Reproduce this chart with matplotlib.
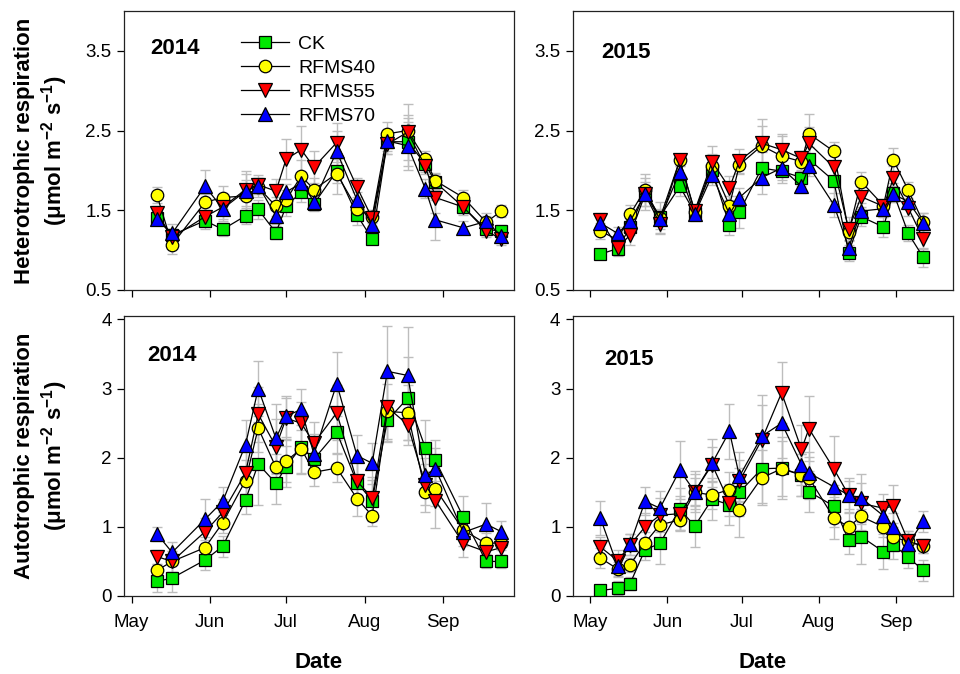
import numpy as np
import matplotlib
matplotlib.use("Agg")
import matplotlib.pyplot as plt
import matplotlib.dates as mdates

plt.rcParams['font.family'] = ['Liberation Sans', 'DejaVu Sans']
plt.rcParams['mathtext.default'] = 'regular'

# ---------------------------------------------------------------- data
treatments = ["CK", "RFMS40", "RFMS55", "RFMS70"]

dates_2014 = ["2014-05-11", "2014-05-17", "2014-05-30", "2014-06-06", "2014-06-15",
              "2014-06-20", "2014-06-27", "2014-07-01", "2014-07-07", "2014-07-12",
              "2014-07-21", "2014-07-29", "2014-08-04", "2014-08-10", "2014-08-18",
              "2014-08-25", "2014-08-29", "2014-09-09", "2014-09-18", "2014-09-24"]

dates_2015 = ["2015-05-05", "2015-05-12", "2015-05-17", "2015-05-23", "2015-05-29",
              "2015-06-06", "2015-06-12", "2015-06-19", "2015-06-26", "2015-06-30",
              "2015-07-09", "2015-07-17", "2015-07-25", "2015-07-28", "2015-08-07",
              "2015-08-13", "2015-08-18", "2015-08-27", "2015-08-31", "2015-09-06",
              "2015-09-12"]

# Heterotrophic respiration, 2014 (means and SE)
rh14_ck   = [1.40, 1.19, 1.37, 1.26, 1.43, 1.51, 1.22, 1.55, 1.73, 1.58, 1.99, 1.44, 1.14, 2.36, 2.36, 2.08, 1.85, 1.54, 1.26, 1.24]
rh14_r40  = [1.69, 1.07, 1.60, 1.66, 1.68, 1.79, 1.55, 1.63, 1.93, 1.76, 1.96, 1.52, 1.42, 2.46, 2.50, 2.14, 1.87, 1.66, 1.35, 1.49]
rh14_r55  = [1.47, 1.16, 1.42, 1.54, 1.76, 1.82, 1.74, 2.14, 2.26, 2.04, 2.35, 1.79, 1.40, 2.33, 2.48, 2.05, 1.66, 1.54, 1.24, 1.14]
rh14_r70  = [1.39, 1.21, 1.80, 1.52, 1.74, 1.81, 1.43, 1.73, 1.84, 1.61, 2.24, 1.63, 1.31, 2.37, 2.31, 1.77, 1.38, 1.28, 1.36, 1.18]
rh14_ck_se  = [0.08, 0.08, 0.10, 0.08, 0.10, 0.12, 0.08, 0.12, 0.12, 0.08, 0.15, 0.12, 0.06, 0.15, 0.30, 0.10, 0.10, 0.08, 0.06, 0.08]
rh14_r40_se = [0.10, 0.12, 0.10, 0.15, 0.20, 0.12, 0.12, 0.12, 0.20, 0.15, 0.25, 0.12, 0.08, 0.15, 0.20, 0.10, 0.10, 0.10, 0.08, 0.08]
rh14_r55_se = [0.08, 0.10, 0.12, 0.15, 0.20, 0.12, 0.15, 0.25, 0.30, 0.20, 0.25, 0.12, 0.10, 0.12, 0.35, 0.10, 0.20, 0.10, 0.08, 0.08]
rh14_r70_se = [0.08, 0.12, 0.20, 0.15, 0.25, 0.10, 0.10, 0.10, 0.12, 0.12, 0.25, 0.10, 0.10, 0.12, 0.30, 0.12, 0.25, 0.08, 0.10, 0.08]

# Heterotrophic respiration, 2015
rh15_ck   = [0.95, 1.02, 1.29, 1.72, 1.42, 1.80, 1.47, 2.01, 1.31, 1.48, 2.03, 1.99, 1.91, 2.14, 1.87, 0.97, 1.42, 1.29, 1.72, 1.21, 0.91]
rh15_r40  = [1.24, 1.13, 1.45, 1.76, 1.40, 2.13, 1.48, 2.05, 1.56, 2.07, 2.31, 2.18, 2.11, 2.46, 2.24, 1.23, 1.86, 1.56, 2.13, 1.75, 1.35]
rh15_r55  = [1.38, 1.03, 1.19, 1.70, 1.33, 2.13, 1.49, 2.11, 1.78, 2.12, 2.34, 2.26, 2.15, 2.34, 2.04, 1.26, 1.67, 1.55, 1.90, 1.53, 1.14]
rh15_r70  = [1.34, 1.21, 1.36, 1.71, 1.39, 1.98, 1.45, 1.94, 1.45, 1.66, 1.91, 2.03, 1.80, 2.05, 1.57, 1.03, 1.49, 1.52, 1.70, 1.61, 1.34]
rh15_ck_se  = [0.05, 0.08, 0.10, 0.10, 0.08, 0.12, 0.08, 0.15, 0.12, 0.20, 0.20, 0.15, 0.10, 0.15, 0.25, 0.10, 0.12, 0.12, 0.12, 0.10, 0.12]
rh15_r40_se = [0.10, 0.10, 0.12, 0.20, 0.20, 0.08, 0.08, 0.15, 0.12, 0.12, 0.25, 0.25, 0.12, 0.25, 0.12, 0.10, 0.12, 0.08, 0.15, 0.10, 0.12]
rh15_r55_se = [0.08, 0.10, 0.12, 0.20, 0.12, 0.08, 0.08, 0.20, 0.15, 0.15, 0.30, 0.20, 0.10, 0.20, 0.15, 0.15, 0.15, 0.08, 0.15, 0.10, 0.12]
rh15_r70_se = [0.08, 0.08, 0.12, 0.15, 0.12, 0.12, 0.08, 0.12, 0.10, 0.12, 0.20, 0.15, 0.08, 0.12, 0.15, 0.10, 0.10, 0.10, 0.10, 0.10, 0.12]

# Autotrophic respiration, 2014
ra14_ck   = [0.21, 0.26, 0.52, 0.72, 1.39, 1.91, 1.63, 1.87, 2.16, 1.98, 2.37, 1.64, 1.38, 2.54, 2.86, 2.14, 1.96, 1.14, 0.50, 0.50]
ra14_r40  = [0.37, 0.50, 0.70, 1.06, 1.67, 2.43, 1.86, 1.95, 2.13, 1.79, 1.85, 1.41, 1.16, 2.67, 2.65, 1.51, 1.55, 0.95, 0.76, 0.77]
ra14_r55  = [0.57, 0.50, 0.93, 1.21, 1.78, 2.63, 2.16, 2.57, 2.50, 2.21, 2.65, 1.66, 1.42, 2.73, 2.48, 1.61, 1.38, 0.76, 0.64, 0.70]
ra14_r70  = [0.90, 0.63, 1.11, 1.37, 2.19, 3.00, 2.28, 2.60, 2.70, 2.05, 3.07, 2.03, 1.92, 3.25, 3.19, 1.75, 1.84, 0.92, 1.04, 0.93]
ra14_ck_se  = [0.15, 0.20, 0.15, 0.15, 0.20, 0.60, 0.30, 0.30, 0.40, 0.25, 0.30, 0.30, 0.30, 0.30, 0.60, 0.40, 0.30, 0.30, 0.10, 0.10]
ra14_r40_se = [0.10, 0.15, 0.15, 0.15, 0.30, 0.35, 0.20, 0.30, 0.35, 0.20, 0.20, 0.25, 0.15, 0.40, 0.40, 0.30, 0.25, 0.15, 0.15, 0.10]
ra14_r55_se = [0.10, 0.15, 0.20, 0.20, 0.30, 0.40, 0.40, 0.30, 0.30, 0.30, 0.40, 0.30, 0.30, 0.50, 0.30, 0.30, 0.40, 0.20, 0.15, 0.10]
ra14_r70_se = [0.10, 0.15, 0.30, 0.20, 0.35, 0.40, 0.50, 0.30, 0.30, 0.30, 0.46, 0.30, 0.30, 0.65, 0.70, 0.25, 0.30, 0.20, 0.30, 0.15]

# Autotrophic respiration, 2015
ra15_ck   = [0.08, 0.11, 0.18, 0.67, 0.76, 1.26, 1.01, 1.40, 1.32, 1.50, 1.84, 1.85, 1.75, 1.51, 1.30, 0.81, 0.86, 0.64, 0.74, 0.56, 0.37]
ra15_r40  = [0.55, 0.39, 0.45, 0.77, 1.03, 1.10, 1.50, 1.46, 1.54, 1.25, 1.71, 1.84, 1.75, 1.71, 1.13, 1.00, 1.15, 1.00, 0.85, 0.79, 0.72]
ra15_r55  = [0.71, 0.51, 0.74, 1.00, 1.17, 1.19, 1.51, 1.90, 1.35, 1.66, 2.26, 2.94, 2.12, 2.42, 1.84, 1.46, 1.34, 1.27, 1.30, 0.79, 0.72]
ra15_r70  = [1.13, 0.43, 0.75, 1.37, 1.27, 1.82, 1.51, 1.92, 2.38, 1.73, 2.31, 2.50, 1.90, 1.78, 1.58, 1.46, 1.42, 1.16, 1.00, 0.75, 1.08]
ra15_ck_se  = [0.05, 0.10, 0.10, 0.15, 0.30, 0.30, 0.30, 0.30, 0.30, 0.35, 0.50, 0.45, 0.30, 0.30, 0.30, 0.20, 0.40, 0.25, 0.20, 0.15, 0.15]
ra15_r40_se = [0.15, 0.10, 0.10, 0.15, 0.20, 0.15, 0.20, 0.20, 0.25, 0.40, 0.40, 0.40, 0.30, 0.30, 0.30, 0.20, 0.20, 0.15, 0.20, 0.15, 0.10]
ra15_r55_se = [0.15, 0.15, 0.15, 0.20, 0.25, 0.25, 0.25, 0.25, 0.20, 0.30, 0.50, 0.44, 0.35, 0.47, 0.47, 0.20, 0.30, 0.20, 0.30, 0.15, 0.10]
ra15_r70_se = [0.25, 0.15, 0.15, 0.20, 0.25, 0.42, 0.30, 0.35, 0.40, 0.35, 0.60, 0.50, 0.30, 0.30, 0.30, 0.25, 0.35, 0.20, 0.20, 0.15, 0.15]

month_ticks = ["05-01", "06-01", "07-01", "08-01", "09-01"]
rh_yticks = [0.5, 1.5, 2.5, 3.5]
ra_yticks = [0, 1, 2, 3, 4]

# ---------------------------------------------------------------- styles
styles = {
    "CK":     dict(marker="s", color="#00E800", ms=8.0),
    "RFMS40": dict(marker="o", color="#FFFF00", ms=9.0),
    "RFMS55": dict(marker="v", color="#FF0000", ms=9.5),
    "RFMS70": dict(marker="^", color="#0000FF", ms=9.5),
}

TICK_FS = 13.5
LEGEND_FS = 14
LABEL_FS = 16

fig = plt.figure(figsize=(9.6, 6.74), dpi=100)
W, H = 960.0, 674.0


def axes_px(x0, x1, y0, y1):
    return fig.add_axes([x0 / W, 1 - y1 / H, (x1 - x0) / W, (y1 - y0) / H])


ax_rh14 = axes_px(124, 514, 11, 290)
ax_rh15 = axes_px(573, 953, 11, 290)
ax_ra14 = axes_px(124, 514, 316, 596)
ax_ra15 = axes_px(573, 953, 316, 596)

panels = [
    (ax_rh14, dates_2014, [rh14_ck, rh14_r40, rh14_r55, rh14_r70],
     [rh14_ck_se, rh14_r40_se, rh14_r55_se, rh14_r70_se], "2014", (0.5, 4.0), rh_yticks,
     ("2014-04-28", "2014-09-29"), False, (0.067, 0.865)),
    (ax_rh15, dates_2015, [rh15_ck, rh15_r40, rh15_r55, rh15_r70],
     [rh15_ck_se, rh15_r40_se, rh15_r55_se, rh15_r70_se], "2015", (0.5, 4.0), rh_yticks,
     ("2015-04-24", "2015-09-24"), False, (0.074, 0.853)),
    (ax_ra14, dates_2014, [ra14_ck, ra14_r40, ra14_r55, ra14_r70],
     [ra14_ck_se, ra14_r40_se, ra14_r55_se, ra14_r70_se], "2014", (0.0, 4.05), ra_yticks,
     ("2014-04-28", "2014-09-29"), True, (0.059, 0.86)),
    (ax_ra15, dates_2015, [ra15_ck, ra15_r40, ra15_r55, ra15_r70],
     [ra15_ck_se, ra15_r40_se, ra15_r55_se, ra15_r70_se], "2015", (0.0, 4.05), ra_yticks,
     ("2015-04-24", "2015-09-24"), True, (0.082, 0.846)),
]

legend_handles = []
for ax, dts, means, ses, year, ylim, yt, xlim, show_x, title_pos in panels:
    x = np.array(dts, dtype="datetime64[D]")
    # error bars first, underneath the lines and symbols
    for m, se in zip(means, ses):
        ax.errorbar(x, m, yerr=se, fmt="none", ecolor="#BDBDBD", elinewidth=1.0,
                    capsize=3.5, capthick=1.0, zorder=1)
    handles = []
    for k, (name, m) in enumerate(zip(treatments, means)):
        st = styles[name]
        (ln,) = ax.plot(x, m, color="black", lw=0.9, marker=st["marker"],
                        markersize=st["ms"], markerfacecolor=st["color"],
                        markeredgecolor="black", markeredgewidth=0.9,
                        zorder=3 + k, label=name)
        handles.append(ln)
    if not legend_handles:
        legend_handles = handles

    ax.set_ylim(*ylim)
    ax.set_yticks(yt)
    ax.set_yticklabels([f"{v:g}" for v in yt])
    ax.set_xlim(np.datetime64(xlim[0]), np.datetime64(xlim[1]))
    ax.set_xticks([np.datetime64(f"{year}-{md}") for md in month_ticks])
    ax.xaxis.set_major_formatter(mdates.DateFormatter("%b"))
    if not show_x:
        ax.tick_params(axis="x", labelbottom=False)
    ax.tick_params(axis="both", direction="out", length=5, width=0.9,
                   labelsize=TICK_FS, top=False, right=False, pad=4)
    ax.tick_params(axis="x", pad=8)
    for sp in ax.spines.values():
        sp.set_linewidth(0.9)
        sp.set_color("#222222")
    ax.text(title_pos[0], title_pos[1], year, transform=ax.transAxes,
            fontsize=LABEL_FS, fontweight="bold", ha="left", va="center")

ax_rh14.legend(legend_handles, treatments, loc="upper left",
               bbox_to_anchor=(0.30, 0.912), frameon=False, fontsize=LEGEND_FS,
               handlelength=2.45, handletextpad=0.5, labelspacing=0.33,
               borderpad=0.0, borderaxespad=0.0)

# row labels
fig.text(42 / W, 1 - 150.5 / H,
         "Heterotrophic respiration\n(μmol m$^{-2}$ s$^{-1}$)",
         rotation=90, ha="center", va="center", fontsize=LABEL_FS,
         fontweight="bold", linespacing=1.2, multialignment="center")
fig.text(42 / W, 1 - 456 / H,
         "Autotrophic respiration\n(μmol m$^{-2}$ s$^{-1}$)",
         rotation=90, ha="center", va="center", fontsize=LABEL_FS,
         fontweight="bold", linespacing=1.2, multialignment="center")

# x labels
fig.text(319 / W, 1 - 662 / H, "Date", ha="center", va="center",
         fontsize=LABEL_FS, fontweight="bold")
fig.text(763 / W, 1 - 662 / H, "Date", ha="center", va="center",
         fontsize=LABEL_FS, fontweight="bold")

fig.savefig("out.png", dpi=100)
